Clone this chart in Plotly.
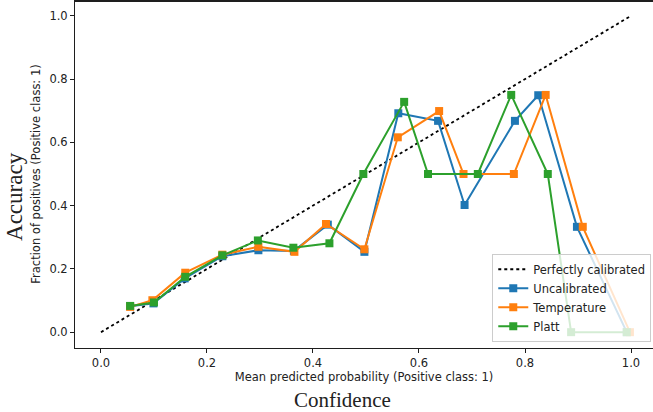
import plotly.graph_objects as go

# Calibration curves (mean predicted probability, fraction of positives)
diag_x = [0.0, 1.0]
diag_y = [0.0, 1.0]

uncal_x = [0.055, 0.099, 0.158, 0.229, 0.297, 0.364, 0.428, 0.497, 0.561, 0.636, 0.686, 0.781, 0.825, 0.898, 0.992]
uncal_y = [0.082, 0.091, 0.170, 0.240, 0.259, 0.257, 0.340, 0.254, 0.692, 0.668, 0.402, 0.668, 0.749, 0.333, 0.0]

temp_x = [0.055, 0.097, 0.159, 0.229, 0.297, 0.365, 0.4245, 0.497, 0.560, 0.638, 0.684, 0.779, 0.839, 0.909, 0.998]
temp_y = [0.080, 0.101, 0.188, 0.245, 0.270, 0.254, 0.342, 0.262, 0.616, 0.699, 0.500, 0.500, 0.750, 0.333, 0.0]

platt_x = [0.055, 0.100, 0.159, 0.229, 0.296, 0.363, 0.431, 0.495, 0.572, 0.617, 0.711, 0.774, 0.843, 0.887, 0.992]
platt_y = [0.083, 0.094, 0.175, 0.243, 0.290, 0.267, 0.281, 0.500, 0.728, 0.500, 0.500, 0.750, 0.500, 0.0, 0.0]

tick_vals = [0.0, 0.2, 0.4, 0.6, 0.8, 1.0]
tick_text = ["0.0", "0.2", "0.4", "0.6", "0.8", "1.0"]

SANS = "DejaVu Sans"
SERIF = "Liberation Serif"
AX = "rgb(30,30,30)"
FS = 11.5

fig = go.Figure()
fig.add_trace(go.Scatter(x=diag_x, y=diag_y, mode="lines", name="Perfectly calibrated",
                         line=dict(color="black", width=1.8, dash="dot")))
series = [("Uncalibrated", uncal_x, uncal_y, "#1f77b4"),
          ("Temperature", temp_x, temp_y, "#ff7f0e"),
          ("Platt", platt_x, platt_y, "#2ca02c")]
for name, xs, ys, c in series:
    fig.add_trace(go.Scatter(x=xs, y=ys, mode="lines+markers", name=name,
                             line=dict(color=c, width=2),
                             marker=dict(symbol="square", size=8, color=c)))

axis_common = dict(
    tickmode="array", tickvals=tick_vals, ticktext=tick_text,
    showgrid=False, zeroline=False, showline=True, linecolor=AX, linewidth=1,
    ticks="outside", ticklen=4, tickwidth=1, tickcolor=AX, automargin=False,
    tickfont=dict(family=SANS, size=FS, color="#222"),
)

fig.update_layout(
    width=653, height=412,
    margin=dict(l=75, r=0, t=0, b=64),
    plot_bgcolor="white", paper_bgcolor="white",
    font=dict(family=SANS, size=FS, color="#222"),
    xaxis=dict(range=[-0.049, 1.0415], mirror=False,
               title=dict(text="Mean predicted probability (Positive class: 1)",
                          font=dict(family=SANS, size=FS, color="#222"), standoff=4),
               **axis_common),
    yaxis=dict(range=[-0.05, 1.05], mirror=False,
               title=dict(text="Fraction of positives (Positive class: 1)",
                          font=dict(family=SANS, size=FS, color="#222"), standoff=6),
               **axis_common),
    legend=dict(x=0.997, y=0.018, xanchor="right", yanchor="bottom",
                bgcolor="rgba(255,255,255,0.8)", bordercolor="#cccccc", borderwidth=1,
                itemwidth=30, tracegroupgap=0,
                font=dict(family=SANS, size=FS, color="#222")),
    showlegend=True,
)

# top spine
fig.add_shape(type="line", xref="paper", yref="paper", x0=0, x1=1, y0=0.997, y1=0.997,
              line=dict(color=AX, width=2))

fig.add_annotation(text="Accuracy", xref="paper", yref="paper", x=-0.1038, y=0.434,
                   textangle=-90, showarrow=False, xanchor="center", yanchor="middle",
                   font=dict(family=SERIF, size=23, color="#222"))
fig.add_annotation(text="Confidence", xref="paper", yref="paper", x=0.4628, y=-0.149,
                   showarrow=False, xanchor="center", yanchor="middle",
                   font=dict(family=SERIF, size=21, color="#222"))

fig.write_html("out.html", config={"displayModeBar": False},
               post_script="document.body.style.margin='0px';document.body.style.overflow='hidden';")
